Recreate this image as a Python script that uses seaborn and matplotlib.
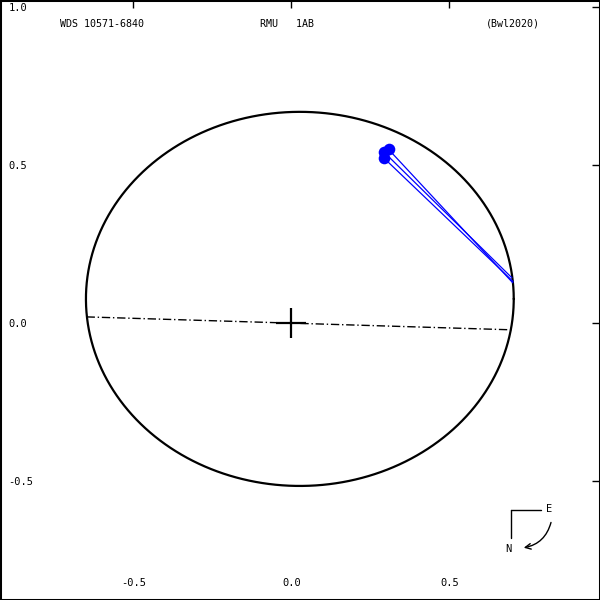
"""
Apparent orbit plot for WDS 10571-6840 (RMU 1AB).
"""

import matplotlib
matplotlib.use("Agg")
import matplotlib.pyplot as plt
import numpy as np
import seaborn as sns

# apparent ellipse (centre, semi-axes, tilt in degrees)
ell_center = (0.027, 0.076)
ell_axes = (0.677, 0.592)
ell_tilt = 0.0

# line of nodes end points
node_x = [-0.648, 0.701]
node_y = [0.019, -0.022]

# observations and their predicted positions on the orbit
obs_x = [0.308, 0.294, 0.294]
obs_y = [0.549, 0.540, 0.521]
pred_x = [0.701, 0.698, 0.702]
pred_y = [0.127, 0.143, 0.131]

x_ticks = [-0.5, 0.0, 0.5]
y_ticks = [1.0, 0.5, 0.0, -0.5]
x_lim = (-0.922, 0.977)
y_lim = (-0.877, 1.022)

sns.set_style("white")
plt.rcParams["font.family"] = ["DejaVu Sans Mono", "DejaVu Sans"]
plt.rcParams["axes.unicode_minus"] = False
plt.rcParams["text.color"] = "black"

fig = plt.figure(figsize=(6, 6), dpi=100)
ax = fig.add_axes([0, 0, 1, 1])

t = np.linspace(0, 2 * np.pi, 400)
ca, sa = np.cos(np.radians(ell_tilt)), np.sin(np.radians(ell_tilt))
ex = ell_center[0] + ell_axes[0] * np.cos(t) * ca - ell_axes[1] * np.sin(t) * sa
ey = ell_center[1] + ell_axes[0] * np.cos(t) * sa + ell_axes[1] * np.sin(t) * ca
ax.plot(ex, ey, color="black", lw=1.6)

ax.plot(node_x, node_y, color="black", lw=1.0, ls=(0, (6, 2, 1, 2)))

# O-C lines
for ox, oy, px, py in zip(obs_x, obs_y, pred_x, pred_y):
    ax.plot([ox, px], [oy, py], color="blue", lw=0.9)
sns.scatterplot(x=obs_x, y=obs_y, ax=ax, color="blue", s=70,
                edgecolor="blue", linewidth=0, zorder=5)

# primary star
ax.plot([0], [0], marker="+", ms=22, mew=1.6, color="black")

# compass
ax.plot([0.696, 0.791], [-0.592, -0.592], color="black", lw=1.0)
ax.plot([0.696, 0.696], [-0.592, -0.680], color="black", lw=1.0)
ax.text(0.816, -0.589, "E", fontsize=7.5, ha="center", va="center")
ax.text(0.686, -0.715, "N", fontsize=7.5, ha="center", va="center")
ax.annotate("", xy=(0.727, -0.713), xytext=(0.824, -0.623),
            arrowprops=dict(arrowstyle="->", color="black", lw=1.0,
                            connectionstyle="arc3,rad=-0.35"))

# header
ax.text(0.10, 0.960, "WDS 10571-6840", transform=ax.transAxes, fontsize=7.2, va="center")
ax.text(0.433, 0.960, "RMU   1AB", transform=ax.transAxes, fontsize=7.2, va="center")
ax.text(0.810, 0.960, "(Bwl2020)", transform=ax.transAxes, fontsize=7.2, va="center")

ax.set_xlim(*x_lim)
ax.set_ylim(*y_lim)
ax.set_xticks(x_ticks)
ax.set_yticks(y_ticks)
ax.set_xticklabels([f"{v:.1f}" for v in x_ticks])
ax.set_yticklabels([f"{v:.1f}" for v in y_ticks])
ax.tick_params(direction="in", length=6, width=1, top=True, right=True,
               labelsize=7.5, colors="black")
ax.tick_params(axis="x", pad=-9)
ax.tick_params(axis="y", pad=-6)
for lab in ax.get_xticklabels():
    lab.set_va("bottom")
for lab in ax.get_yticklabels():
    lab.set_ha("left")
for sp in ax.spines.values():
    sp.set_visible(True)
    sp.set_color("black")
    sp.set_linewidth(2.2)

fig.savefig("out.png", dpi=100)
